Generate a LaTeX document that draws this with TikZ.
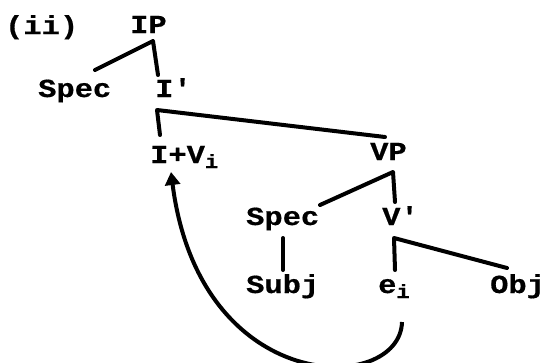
\documentclass[tikz,border=0pt]{standalone}
\usepackage{fontspec}
\newfontfamily\tw[FakeStretch=1.17,FakeBold=0.6,Ligatures=TeXOff]{Liberation Mono}
\usetikzlibrary{arrows.meta}
\newcommand{\sbi}{\raisebox{-5pt}{\fontsize{19}{19}\selectfont i}}
\tikzset{
  lbl/.style={anchor=base west,inner sep=0pt,font=\tw\bfseries\fontsize{26}{26}\selectfont},
  br/.style={line width=4pt,line cap=round,line join=round},
  mv/.style={line width=4pt,-{Triangle[width=15pt,length=13pt]}}
}
\begin{document}
\begin{tikzpicture}[x=1pt,y=-1pt]
\useasboundingbox (0,0) rectangle (548,362);
\clip (0,0) rectangle (548,362);
\node[lbl] (ex) at (5,34) {(ii)};
\node[lbl] (ip) at (130,33) {IP};
\node[lbl] (spec1) at (38,97) {Spec};
\node[lbl] (ibar) at (155,97) {I'};
\node[lbl] (iv) at (150,163) {I+V\sbi};
\node[lbl] (vp) at (370,160) {VP};
\node[lbl] (spec2) at (246,225) {Spec};
\node[lbl] (vbar) at (382,225) {V'};
\node[lbl] (subj) at (246,293) {Subj};
\node[lbl] (ei) at (378,293) {e\sbi};
\node[lbl] (obj) at (490,293) {Obj};
% branch points and ends
\coordinate (c1) at (153,41);
\coordinate (s1) at (95,70);
\coordinate (i1) at (158,75);
\coordinate (c2) at (157,110);
\coordinate (iv1) at (160,135);
\coordinate (vp1) at (385,137);
\coordinate (c3) at (393,172);
\coordinate (s2) at (320,205);
\coordinate (vb1) at (395,202);
\coordinate (sp2b) at (283,238);
\coordinate (sj) at (283,270);
\coordinate (c4) at (394,238);
\coordinate (e1) at (395,270);
\coordinate (o1) at (507,268);
\coordinate (as) at (402,322);
\coordinate (at) at (171,172);
\draw[br] (s1) -- (c1) -- (i1);
\draw[br] (vp1) -- (c2) -- (iv1);
\draw[br] (s2) -- (c3) -- (vb1);
\draw[br] (sp2b) -- (sj);
\draw[br] (o1) -- (c4) -- (e1);
\draw[mv] (as) .. controls (400,395) and (200,398) .. (at);
\end{tikzpicture}
\end{document}
